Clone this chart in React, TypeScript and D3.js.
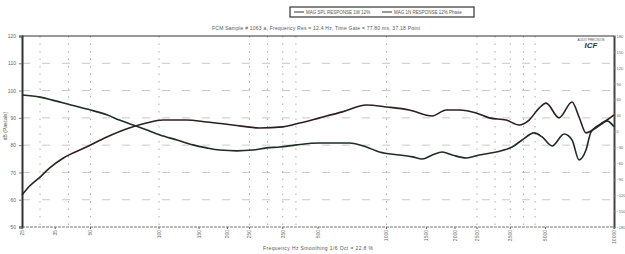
import { useEffect, useRef } from "react"
import * as d3 from "d3"

// descending curve (green-ish trace)
const freqA = [25, 30, 34, 41, 50, 59, 67, 77, 88, 101, 120, 141, 162, 185, 220, 258, 297, 339, 402, 508, 687, 816, 931, 1140, 1300, 1437, 1590, 1759, 1946, 2241, 2557, 3035, 3566, 3948, 4455, 4831, 5345, 6035, 6541, 7020, 7530, 7920, 8335, 8855, 9318, 10000]
const magA = [98.4, 97.6, 96.5, 94.7, 92.9, 91.1, 89.2, 87.4, 85.6, 83.7, 81.9, 80.1, 79.0, 78.2, 77.9, 78.2, 79.0, 79.3, 80.1, 80.8, 80.8, 79.3, 77.5, 76.4, 75.7, 74.9, 76.4, 77.5, 76.4, 75.3, 76.4, 77.5, 79.3, 81.9, 84.5, 83.0, 79.7, 84.1, 81.9, 74.6, 78.2, 84.8, 86.3, 87.8, 88.9, 86.7]

// rising curve (red-ish trace)
const freqB = [25, 27, 30, 33, 38, 48, 59, 74, 88, 104, 132, 162, 211, 277, 350, 415, 508, 640, 816, 1000, 1260, 1590, 1832, 2088, 2480, 2829, 3357, 3830, 4236, 4687, 5030, 5737, 6541, 7020, 7530, 7920, 8335, 8855, 9318, 10000]
const magB = [61.7, 65.0, 68.3, 71.6, 75.3, 79.3, 83.0, 86.3, 88.1, 89.2, 89.2, 88.5, 87.4, 86.3, 86.7, 88.1, 90.0, 92.2, 94.7, 94.0, 92.9, 90.7, 92.9, 92.9, 91.8, 90.0, 89.2, 87.4, 89.2, 93.6, 95.4, 90.0, 95.8, 90.3, 84.5, 85.2, 86.7, 88.1, 89.2, 91.1]

const xTicks = [25, 35, 50, 100, 150, 200, 250, 350, 500, 1000, 1500, 2000, 2500, 3500, 5000, 10000]
const xGrid = [30, 40, 50, 100, 250, 300, 350, 400, 1000, 2500, 3000, 3500, 4000, 4500]
const leftTicks = [50, 60, 70, 80, 90, 100, 110, 120]
const rightTicks = [-180, -150, -120, -90, -60, -30, 0, 30, 60, 90, 120, 150, 180]
const legendLabels = ["MAG SPL RESPONSE 1W 12%", "MAG 1N RESPONSE 12% Phase"]
const titleText = "FCM Sample # 1063 a, Frequency Res = 12.4 Hz, Time Gate = 77.80 ms, 37.18 Point"
const xTitle = "Frequency Hz  Smoothing 1/6 Oct = 22.8 %"
const yTitle = "dB (Pascals)"

const W = 625, H = 254
const margin = { top: 36, right: 11, bottom: 27, left: 22 }

const App = () => {
    const ref = useRef<SVGSVGElement>(null)

    useEffect(() => {
        const svg = d3.select(ref.current)
        svg.selectAll("*").remove()

        const x = d3.scaleLog().domain([25, 10000]).range([margin.left, W - margin.right])
        const y = d3.scaleLinear().domain([50, 120]).range([H - margin.bottom, margin.top])
        const yR = d3.scaleLinear().domain([-180, 180]).range([H - margin.bottom, margin.top])
        const font = "Liberation Sans, Arial, sans-serif"

        // horizontal grid
        svg.append("g")
            .selectAll("line")
            .data(leftTicks.slice(1, -1))
            .enter()
            .append("line")
            .attr("x1", margin.left).attr("x2", W - margin.right)
            .attr("y1", d => y(d)).attr("y2", d => y(d))
            .attr("stroke", "#bbb")
            .attr("stroke-width", 0.8)
            .attr("stroke-dasharray", "8,12")

        // vertical grid
        svg.append("g")
            .selectAll("line")
            .data(xGrid)
            .enter()
            .append("line")
            .attr("x1", d => x(d)).attr("x2", d => x(d))
            .attr("y1", margin.top).attr("y2", H - margin.bottom)
            .attr("stroke", "#999")
            .attr("stroke-width", 0.8)
            .attr("stroke-dasharray", "1.5,6")

        // frame
        svg.append("line")
            .attr("x1", margin.left).attr("x2", W - margin.right)
            .attr("y1", margin.top).attr("y2", margin.top)
            .attr("stroke", "#333").attr("stroke-width", 1.2)
        svg.append("line")
            .attr("x1", margin.left).attr("x2", W - margin.right)
            .attr("y1", H - margin.bottom).attr("y2", H - margin.bottom)
            .attr("stroke", "#777").attr("stroke-width", 1).attr("stroke-dasharray", "3,1")

        // left axis
        const gl = svg.append("g").attr("transform", `translate(${margin.left},0)`)
            .call(d3.axisLeft(y).tickValues(leftTicks).tickSize(3).tickFormat(d3.format("d")))
        gl.select(".domain").attr("stroke", "#333").attr("stroke-width", 2)
        gl.selectAll("line").attr("stroke", "#777")
        gl.selectAll("text").attr("font-size", 5).attr("fill", "#666").attr("font-family", font)

        // right axis
        const gr = svg.append("g").attr("transform", `translate(${W - margin.right},0)`)
            .call(d3.axisRight(yR).tickValues(rightTicks).tickSize(1.5).tickPadding(1))
        gr.select(".domain").attr("stroke", "#444").attr("stroke-width", 2)
        gr.selectAll("line").attr("stroke", "#777")
        gr.selectAll("text").attr("font-size", 4).attr("fill", "#666").attr("font-family", font)

        // bottom tick labels, rotated
        const gx = svg.append("g")
        gx.selectAll("line")
            .data(xTicks)
            .enter()
            .append("line")
            .attr("x1", d => x(d)).attr("x2", d => x(d))
            .attr("y1", H - margin.bottom).attr("y2", H - margin.bottom + 2)
            .attr("stroke", "#666")
        gx.selectAll("text")
            .data(xTicks)
            .enter()
            .append("text")
            .attr("transform", d => `translate(${x(d) + 1.8},${H - margin.bottom + 3}) rotate(-90)`)
            .attr("text-anchor", "end")
            .attr("font-size", 5)
            .attr("fill", "#666")
            .attr("font-family", font)
            .text(d => d)

        // curves
        const drawCurve = (fs: number[], ms: number[], color: string) => {
            svg.append("path")
                .datum(fs.map((f, i) => [x(f), y(ms[i])] as [number, number]))
                .attr("fill", "none")
                .attr("stroke", color)
                .attr("stroke-width", 1.6)
                .attr("d", d3.line().curve(d3.curveMonotoneX))
        }
        drawCurve(freqA, magA, "#1e2e22")
        drawCurve(freqB, magB, "#2e1f20")

        // titles
        svg.append("text")
            .attr("x", 316).attr("y", 30)
            .attr("text-anchor", "middle")
            .attr("font-size", 5).attr("fill", "#555").attr("font-family", font)
            .attr("textLength", 208)
            .text(titleText)
        svg.append("text")
            .attr("x", 318).attr("y", 250)
            .attr("text-anchor", "middle")
            .attr("font-size", 5).attr("fill", "#555").attr("font-family", font)
            .attr("textLength", 110)
            .text(xTitle)
        svg.append("text")
            .attr("transform", "translate(7,126) rotate(-90)")
            .attr("text-anchor", "middle")
            .attr("font-size", 5).attr("fill", "#555").attr("font-family", font)
            .text(yTitle)

        // legend
        const lg = svg.append("g")
        lg.append("rect")
            .attr("x", 290).attr("y", 7).attr("width", 184).attr("height", 10)
            .attr("fill", "white").attr("stroke", "#333").attr("stroke-width", 1.2)
        lg.selectAll("g.item")
            .data(legendLabels)
            .enter()
            .append("g")
            .attr("class", "item")
            .attr("transform", (d, i) => `translate(${294 + i * 88},12)`)
            .each(function (d) {
                const g = d3.select(this)
                g.append("line").attr("x1", 0).attr("x2", 10).attr("stroke", "#333").attr("stroke-width", 1)
                g.append("text").attr("x", 12).attr("y", 1.8)
                    .attr("font-size", 4.5).attr("fill", "#555").attr("font-family", font)
                    .text(d)
            })

        // logo
        svg.append("text")
            .attr("x", 591).attr("y", 41)
            .attr("text-anchor", "middle")
            .attr("font-size", 3).attr("fill", "#555").attr("font-family", font)
            .text("AUDIO PRECISION")
        svg.append("text")
            .attr("x", 591).attr("y", 48)
            .attr("text-anchor", "middle")
            .attr("font-size", 8).attr("font-weight", "bold").attr("font-style", "italic")
            .attr("fill", "#333").attr("font-family", font)
            .text("ICF")
    }, [])

    return <svg ref={ref} width={W} height={H} style={{ position: "absolute", left: 0, top: 0, background: "white" }} />
}

export default App
